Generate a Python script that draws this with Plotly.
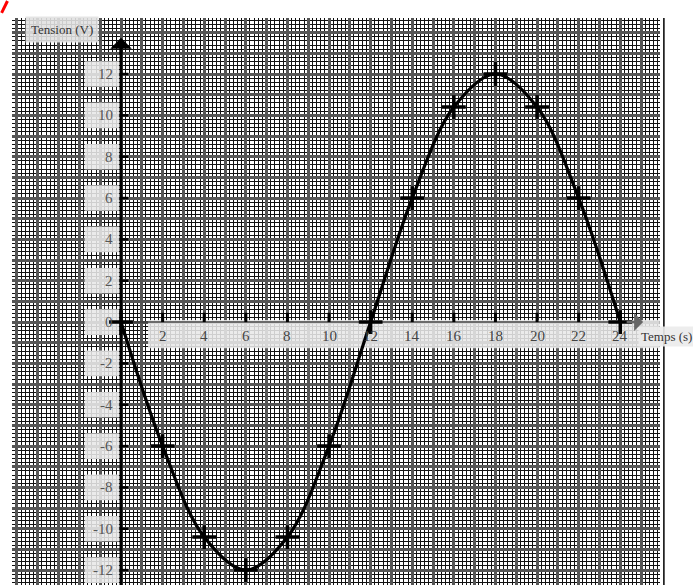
import plotly.graph_objects as go

# Data
temps = [0, 2, 4, 6, 8, 10, 12, 14, 16, 18, 20, 22, 24]
tension = [0, -6, -10.4, -12, -10.4, -6, 0, 6, 10.4, 12, 10.4, 6, 0]
x_tick_vals = [2, 4, 6, 8, 10, 12, 14, 16, 18, 20, 22, 24]
x_tick_text = ["2", "4", "6", "8", "10", "12", "14", "16", "18", "20", "22", "24"]
y_tick_vals = [12, 10, 8, 6, 4, 2, 0, -2, -4, -6, -8, -10, -12]
y_tick_text = ["12", "10", "8", "6", "4", "2", "0", "-2", "-4", "-6", "-8", "-10", "-12"]
x_title = "Temps (s)"
y_title = "Tension (V)"

X_RANGE = [-5.24, 25.91]
Y_RANGE = [-12.72, 14.71]
SERIF = "Liberation Serif, Times New Roman, serif"

fig = go.Figure()

fig.add_trace(go.Scatter(
    x=temps, y=tension, mode="lines+markers",
    line=dict(color="black", width=3.2, shape="spline", smoothing=1.0),
    marker=dict(symbol="cross-thin", size=17, line=dict(color="black", width=3.5), color="black"),
    cliponaxis=False, showlegend=False, hoverinfo="skip",
))

shapes = []
# x-label band
shapes.append(dict(type="rect", xref="x", yref="y", x0=1.3, x1=25.9, y0=-1.27, y1=0.1,
                   fillcolor="rgba(232,232,232,0.88)", line=dict(width=0), layer="between"))
# y-label boxes
for v in y_tick_vals:
    shapes.append(dict(type="rect", xref="x", yref="y", x0=-1.75, x1=-0.1, y0=v - 0.62, y1=v + 0.62,
                       fillcolor="rgba(232,232,232,0.88)", line=dict(width=0), layer="between"))
# axes
shapes.append(dict(type="line", xref="x", yref="y", x0=0, x1=0, y0=Y_RANGE[0], y1=13.5,
                   line=dict(color="black", width=3), layer="between"))
shapes.append(dict(type="line", xref="x", yref="y", x0=0, x1=25.0, y0=0, y1=0,
                   line=dict(color="rgba(60,60,60,0.7)", width=2), layer="between"))
# ticks
for v in x_tick_vals:
    shapes.append(dict(type="line", xref="x", yref="y", x0=v, x1=v, y0=0, y1=0.45,
                       line=dict(color="black", width=3), layer="between"))
for v in y_tick_vals:
    shapes.append(dict(type="line", xref="x", yref="y", x0=-0.05, x1=0.35, y0=v, y1=v,
                       line=dict(color="black", width=2.5), layer="between"))
# right border
shapes.append(dict(type="line", xref="paper", yref="paper", x0=1.006, x1=1.006, y0=0, y1=1,
                   line=dict(color="black", width=1.5)))
# red pen mark
shapes.append(dict(type="line", xref="paper", yref="paper", x0=-0.016, x1=-0.007, y0=1.009, y1=1.03,
                   line=dict(color="red", width=3)))

annotations = []
for v, t in zip(x_tick_vals, x_tick_text):
    annotations.append(dict(x=v, y=-0.68, xref="x", yref="y", text=t, showarrow=False,
                            font=dict(family=SERIF, size=15, color="#444"), xanchor="center", yanchor="middle"))
for v, t in zip(y_tick_vals, y_tick_text):
    annotations.append(dict(x=-0.28, y=v, xref="x", yref="y", text=t, showarrow=False,
                            font=dict(family=SERIF, size=15, color="#555"), xanchor="right", yanchor="middle"))
annotations.append(dict(x=-2.84, y=14.13, xref="x", yref="y", text=y_title, showarrow=False,
                        font=dict(family=SERIF, size=13, color="#333"),
                        bgcolor="rgba(225,225,225,0.9)", borderpad=5, xanchor="center", yanchor="middle"))
annotations.append(dict(x=24.85, y=-0.68, xref="x", yref="y", text=x_title, showarrow=False,
                        font=dict(family=SERIF, size=13, color="#333"),
                        bgcolor="rgba(235,235,235,0.9)", borderpad=2, xanchor="left", yanchor="middle"))
# arrowheads
annotations.append(dict(x=0, y=13.75, xref="x", yref="y", ax=0, ay=18, text="", showarrow=True,
                        arrowhead=1, arrowsize=1.2, arrowwidth=3, arrowcolor="black"))
annotations.append(dict(x=25.1, y=0, xref="x", yref="y", ax=-18, ay=0, text="", showarrow=True,
                        arrowhead=1, arrowsize=1.2, arrowwidth=2.5, arrowcolor="#666"))

fig.update_layout(
    width=693, height=585,
    margin=dict(l=12, r=33, t=18, b=0),
    paper_bgcolor="white", plot_bgcolor="white",
    shapes=shapes, annotations=annotations,
    xaxis=dict(range=X_RANGE, tick0=0, dtick=1, showgrid=True, gridcolor="#555", gridwidth=2.5,
               minor=dict(tick0=0, dtick=0.2, showgrid=True, gridcolor="#111", gridwidth=1.2),
               showticklabels=False, ticks="", zeroline=False, showline=False, fixedrange=True),
    yaxis=dict(range=Y_RANGE, tick0=0, dtick=1, showgrid=True, gridcolor="#555", gridwidth=2.5,
               minor=dict(tick0=0, dtick=0.2, showgrid=True, gridcolor="#111", gridwidth=1.2),
               showticklabels=False, ticks="", zeroline=False, showline=False, fixedrange=True),
)

fig.write_html("out.html", config={"displayModeBar": False},
               post_script="document.body.style.margin='0';document.body.style.overflow='hidden';")
